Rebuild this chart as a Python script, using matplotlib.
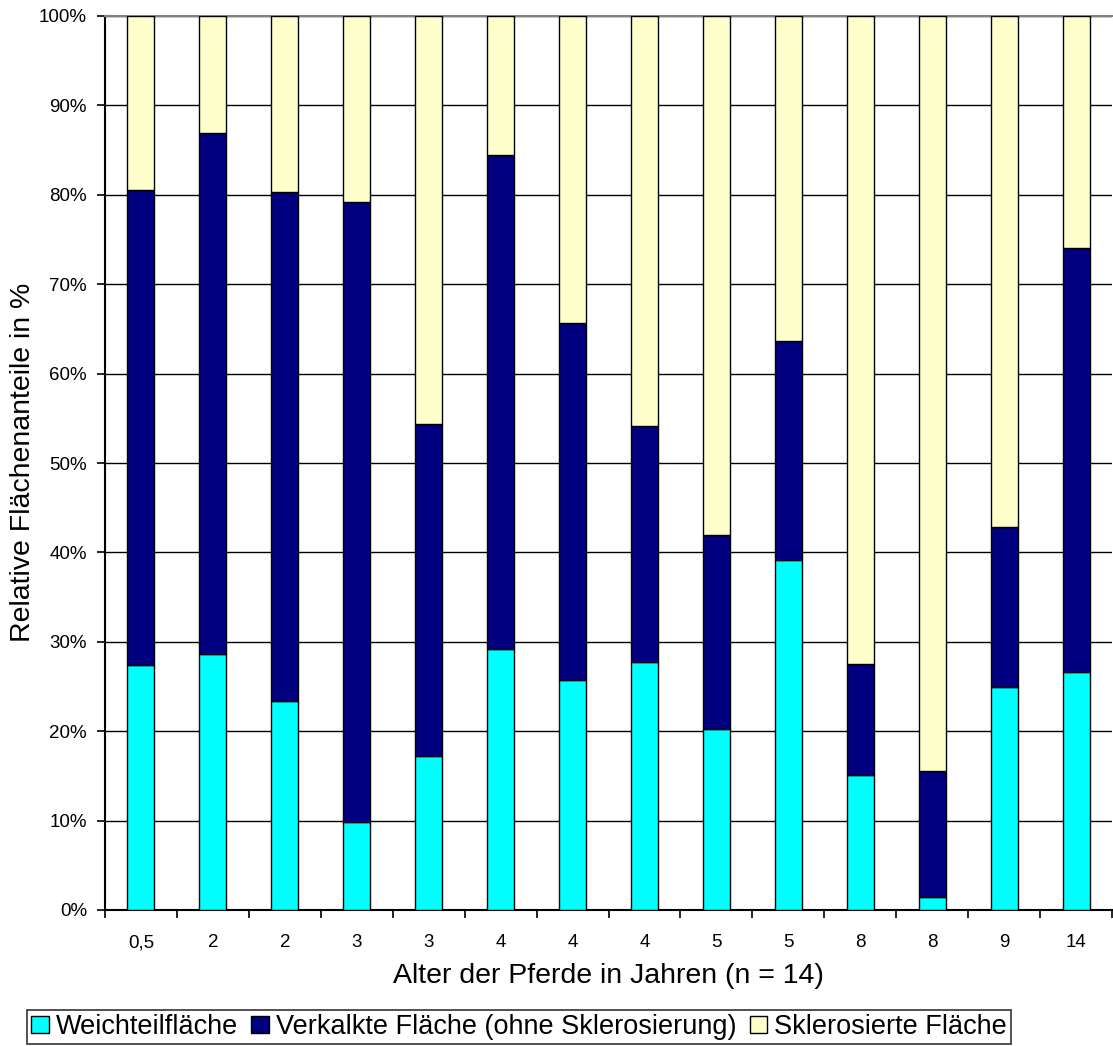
import matplotlib
matplotlib.use("Agg")
import matplotlib.pyplot as plt
import numpy as np

plt.rcParams['font.family'] = ['Liberation Sans', 'DejaVu Sans']

# Age of each horse (category labels)
ages = ["0,5", "2", "2", "3", "3", "4", "4", "4", "5", "5", "8", "8", "9", "14"]

# Soft tissue share (%)
weichteil = [27.4, 28.6, 23.4, 9.8, 17.2, 29.2, 25.7, 27.7, 20.3, 39.1, 15.1, 1.5, 25.0, 26.6]
# Cumulative top of calcified area (%)
verkalkt_top = [80.5, 86.9, 80.3, 79.2, 54.4, 84.4, 65.7, 54.1, 41.9, 63.6, 27.5, 15.5, 42.8, 74.0]

series_names = ["Weichteilfläche", "Verkalkte Fläche (ohne Sklerosierung)", "Sklerosierte Fläche"]
colors = ["#00FFFF", "#000080", "#FFFFCC"]

weich = np.array(weichteil)
verk = np.array(verkalkt_top) - weich
skler = 100.0 - np.array(verkalkt_top)

W, H = 1113, 1046
AX_L, AX_B, AX_W, AX_H = 105, 136, 1007, 894
fig = plt.figure(figsize=(W / 100, H / 100), dpi=100)
ax = fig.add_axes([AX_L / W, AX_B / H, AX_W / W, AX_H / H])

x = np.arange(len(ages))
w = 0.375
bottom = np.zeros(len(ages))
for vals, c, name in zip([weich, verk, skler], colors, series_names):
    ax.bar(x, vals, w, bottom=bottom, color=c, edgecolor="black", linewidth=1.0,
           label=name, zorder=3)
    bottom = bottom + vals

ax.set_xlim(-0.5, len(ages) - 0.5)
ax.set_ylim(0, 100)

ax.set_yticks(np.arange(0, 101, 10))
ax.set_yticklabels([f"{v}%" for v in range(0, 101, 10)], fontsize=13.5)
ax.yaxis.grid(True, color="black", linewidth=1.0, zorder=0)

# Ticks at category boundaries, labels at centres
ax.set_xticks(np.arange(-0.5, len(ages), 1.0))
ax.set_xticklabels([])
ax.set_xticks(x, minor=True)
ax.set_xticklabels(ages, minor=True, fontsize=13.5)
for lbl in ax.get_xticklabels(minor=True):
    lbl.set_verticalalignment("center_baseline")
ax.tick_params(axis="x", which="minor", length=0, pad=22)
ax.tick_params(axis="x", which="major", length=6, width=1.2, direction="out")
ax.tick_params(axis="y", length=6, width=1.2, direction="out", pad=7)

ax.spines["left"].set_linewidth(1.5)
ax.spines["bottom"].set_linewidth(1.5)
ax.spines["top"].set_color("#808080")
ax.spines["top"].set_linewidth(1.5)
ax.spines["right"].set_visible(False)

ax.set_xlabel("Alter der Pferde in Jahren (n = 14)", fontsize=20.5)
ax.xaxis.set_label_coords(0.5, ((H - 976) - AX_B) / AX_H, transform=ax.transAxes)
ax.xaxis.label.set_verticalalignment("center")
ax.set_ylabel("Relative Flächenanteile in %", fontsize=20.5)
ax.yaxis.set_label_coords((23 - AX_L) / AX_W, ((H - 462) - AX_B) / AX_H, transform=ax.transAxes)
ax.yaxis.label.set_verticalalignment("center")

leg = fig.legend(loc="lower left", bbox_to_anchor=(27 / W, 2 / H), ncol=3,
                 fontsize=19.5, frameon=True, fancybox=False, edgecolor="black",
                 handlelength=0.65, handleheight=0.6, handletextpad=0.25,
                 columnspacing=0.5, borderpad=0.15, borderaxespad=0)
leg.get_frame().set_linewidth(1.2)

fig.savefig("out.png", dpi=100, facecolor="white")
